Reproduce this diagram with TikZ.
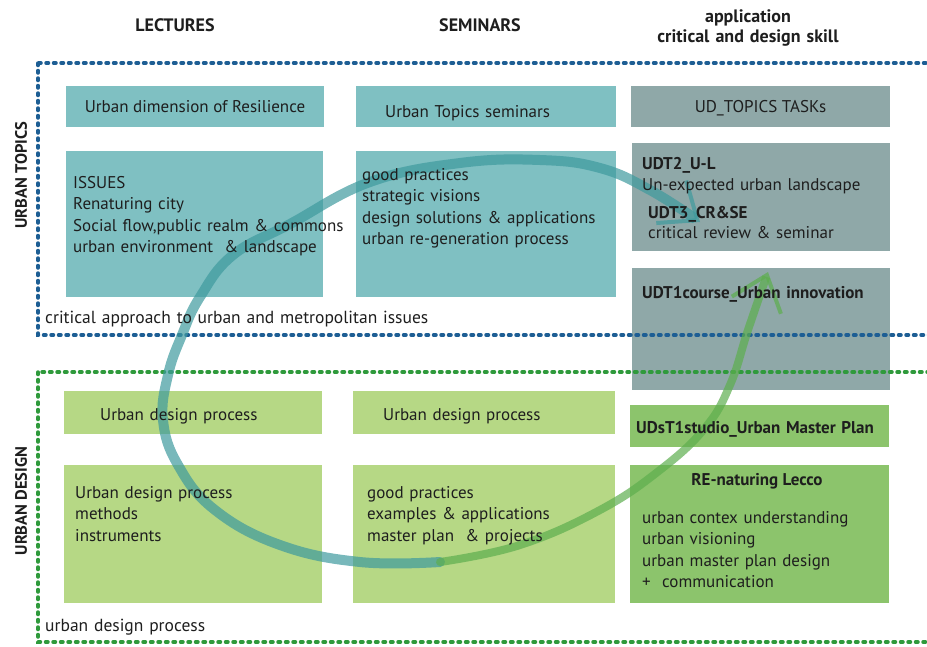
\documentclass[tikz,border=0pt]{standalone}
\usepackage{fontspec}
\setmainfont{PT Sans}
\usepackage{tikz}
\usetikzlibrary{arrows.meta}

\definecolor{tealbox}{HTML}{7FC0C2}
\definecolor{graybox}{HTML}{8FA8A8}
\definecolor{lightgreen}{HTML}{B6D885}
\definecolor{darkgreen}{HTML}{8CC46C}
\definecolor{textcol}{HTML}{1E1E1E}
\definecolor{frameblue}{HTML}{1D5E94}
\definecolor{framegreen}{HTML}{2F9A3C}
\definecolor{swirlteal}{HTML}{3E9A9E}
\definecolor{swirlgreen}{HTML}{5DAE4E}

\tikzset{
    box/.style={fill=#1, inner sep=0pt, outer sep=0pt, anchor=north west},
    txt/.style={font=\fontsize{17}{21.5}\selectfont, text=textcol, inner sep=0pt,
        anchor=base west, align=left, text width=300pt},
    note/.style={txt, font=\fontsize{17.5}{20}\selectfont, text width=500pt},
    head/.style={font=\fontsize{18}{20.5}\selectfont\bfseries, text=textcol, inner sep=0pt,
        anchor=base, align=center, text width=260pt},
    side/.style={font=\fontsize{16.5}{18}\selectfont\bfseries, text=textcol, inner sep=0pt, rotate=90},
    frame/.style={draw=#1, line width=3.5pt, dash pattern=on 2.5pt off 5pt, line cap=round},
    swirl/.style={draw=#1, line width=10pt, opacity=0.7, line cap=round},
    barb/.tip={Straight Barb[length=32pt, width=52pt, line width=4pt]},
}

\begin{document}
\begin{tikzpicture}[x=1pt, y=-1pt]
    \useasboundingbox (0,0) rectangle (927,646);

    \foreach \n/\xa/\ya/\xb/\yb/\c in {
        res/66/86/324/127/tealbox, topsem/356/86/616/127/tealbox, tasks/631/86/890/127/graybox,
        issues/66/151/323/297/tealbox, practices/356/151/616/297/tealbox,
        udtrev/632/143/890/251/graybox, udtcourse/632/268/890/390/graybox,
        udpl/64/391/322/434/lightgreen, udps/353/391/615/434/lightgreen,
        studio/630/405/889/447/darkgreen,
        methods/64/465/322/603/lightgreen, examples/353/465/615/603/lightgreen,
        lecco/630/465/889/603/darkgreen} {
        \node [box=\c, minimum width={(\xb-\xa)*1pt}, minimum height={(\yb-\ya)*1pt}]
            (\n) at (\xa,\ya) {};
    }

    \draw [frame=frameblue] (38,63) rectangle (960,335);
    \draw [frame=framegreen] (38,372) rectangle (960,642);

    \coordinate (swirlbot) at (440,562);
    \coordinate (revtip) at (700,222);
    \coordinate (coursetip) at (768,272);
    \draw [swirl=swirlteal, -barb] plot [smooth, tension=0.7] coordinates {
        (swirlbot) (360,562) (280,545) (215,510) (178,465) (163,420) (168,375)
        (182,335) (200,297) (233,255) (290,224) (370,182) (460,163) (540,160)
        (600,168) (650,190) (revtip)};
    \draw [swirl=swirlgreen, line width=8pt, -barb] plot [smooth, tension=0.7] coordinates {
        (swirlbot) (520,545) (600,510) (660,470) (705,428) (730,385) (748,330) (coursetip)};

    \node [head] (lectures) at (175,31) {LECTURES};
    \node [head] (seminars) at (480,31) {SEMINARS};
    \node [head] (application) at (748,22) {application\\critical and design skill};
    \node [side] (topicslbl) at (21,175) {URBAN TOPICS};
    \node [side] (designlbl) at (21,501) {URBAN DESIGN};

    \node [txt, anchor=base, text width=] (restxt) at ([yshift=-6pt]res.center) {Urban dimension of Resilience};
    \node [txt] (topsemtxt) at (385,117) {Urban Topics seminars};
    \node [txt, anchor=base, text width=] (taskstxt) at ([yshift=-6pt]tasks.center) {UD\_TOPICS TASKs};
    \node [txt] (issuestxt) at ([shift={(7,37)}]issues.north west)
        {ISSUES\\Renaturing city\\Social flow,public realm \& commons\\urban environment \ \& landscape};
    \node [txt] (practicestxt) at ([shift={(6,29)}]practices.north west)
        {good practices\\strategic visions\\design solutions \& applications\\urban re-generation process};
    \node [txt, font=\fontsize{17}{21}\selectfont] (udttwotxt) at (642,169)
        {\textbf{UDT2\_U-L}\\Un-expected urban landscape};
    \node [txt, font=\fontsize{17}{20}\selectfont] (udtthreetxt) at (648,218)
        {\textbf{UDT3\_CR\&SE}\\critical review \& seminar};
    \node [txt] (coursetxt) at (642,298) {\textbf{UDT1course\_Urban innovation}};
    \node [note] (topicsnote) at (45,323) {critical approach to urban and metropolitan issues};

    \node [txt] (udpltxt) at (100,420) {Urban design process};
    \node [txt] (udpstxt) at (383,420) {Urban design process};
    \node [txt] (studiotxt) at (636,433) {\textbf{UDsT1studio\_Urban Master Plan}};
    \node [txt] (methodstxt) at ([shift={(11,33)}]methods.north west)
        {Urban design process\\methods\\instruments};
    \node [txt] (examplestxt) at ([shift={(14,33)}]examples.north west)
        {good practices\\examples \& applications\\master plan \ \& projects};
    \node [txt, anchor=base, text width=] (leccohead) at (757,485) {\textbf{RE-naturing Lecco}};
    \node [txt] (leccotxt) at ([shift={(12,58)}]lecco.north west)
        {urban contex understanding\\urban visioning\\urban master plan design\\+ \ communication};
    \node [note] (designnote) at (45,631) {urban design process};
\end{tikzpicture}
\end{document}
